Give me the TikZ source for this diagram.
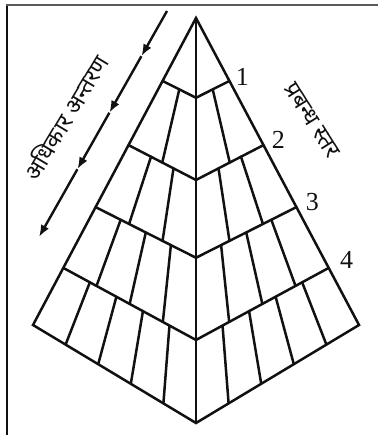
\documentclass[tikz,border=0pt]{standalone}
\usepackage{fontspec}
\setmainfont{Liberation Serif}
\newfontfamily\devfont[Script=Devanagari]{Noto Sans}
\usetikzlibrary{calc,arrows.meta}
\definecolor{ink}{HTML}{111111}
\definecolor{frm}{HTML}{5A5A5A}
\tikzset{
  edge/.style={line width=2.5pt, draw=ink, line join=miter, line cap=round},
  frametop/.style={line width=2pt, draw=frm},
  frameleft/.style={line width=1.8pt, draw=ink},
  lvlnum/.style={font=\fontsize{26}{26}\selectfont, text=ink, inner sep=0pt},
  devtxt/.style={font=\devfont\bfseries\fontsize{23}{23}\selectfont, text=ink, inner sep=0pt},
  arr/.style={-{Latex[length=12pt,width=9pt]}, line width=2.4pt, draw=ink},
}
\begin{document}
\begin{tikzpicture}[x=1pt,y=-1pt]
  \useasboundingbox (0,0) rectangle (378,435);
  \draw[frameleft] (7,435) -- (7,5);
  \draw[frametop] (6,5) -- (378,5);

  % outline of the pyramid
  \coordinate (A) at (196,18);
  \coordinate (L) at (33,325);
  \coordinate (R) at (359,325);
  \coordinate (B) at (196,423);
  \foreach \k/\t/\s in {1/0.205/0.197, 2/0.414/0.400, 3/0.616/0.592,
                        4/0.814/0.795, 5/1/1}{
    \coordinate (P\k) at ($(A)!\t!(R)$);
    \coordinate (Q\k) at ($(A)!\t!(L)$);
    \coordinate (C\k) at ($(A)!\s!(B)$);
  }
  \draw[edge] (A) -- (R) -- (B) -- (L) -- cycle;
  \draw[edge] (A) -- (B);
  \foreach \k in {1,...,4}{
    \draw[edge] (Q\k) -- (C\k) -- (P\k);
  }
  % bricks between the levels
  \foreach \k in {1,...,4}{
    \pgfmathtruncatemacro\n{\k+1}
    \foreach \j in {1,...,\k}{
      \draw[edge] ($(C\k)!\j/\n!(P\k)$) -- ($(C\n)!\j/\n!(P\n)$);
      \draw[edge] ($(C\k)!\j/\n!(Q\k)$) -- ($(C\n)!\j/\n!(Q\n)$);
    }
  }
  \foreach \k/\dx/\dy in {1/13/-4, 2/15/-5, 3/16/-5, 4/18/-8}{
    \node[lvlnum] (num\k) at ($(P\k)+(\dx,\dy)$) {\k};
  }

  % delegation arrow
  \coordinate (s0) at (167,11);
  \coordinate (s4) at (39,237);
  \foreach \i/\f in {1/0.2, 2/0.45, 3/0.7}{
    \coordinate (s\i) at ($(s0)!\f!(s4)$);
  }
  \foreach \i [evaluate=\i as \p using int(\i-1)] in {1,...,4}{
    \draw[arr] (s\p) -- (s\i);
  }
  \node[devtxt, rotate=59] (auth) at (65,117) {अधिकार अन्तरण};
  \node[devtxt, rotate=-58] (lvltxt) at (312,120) {प्रबन्ध स्तर};
\end{tikzpicture}
\end{document}
